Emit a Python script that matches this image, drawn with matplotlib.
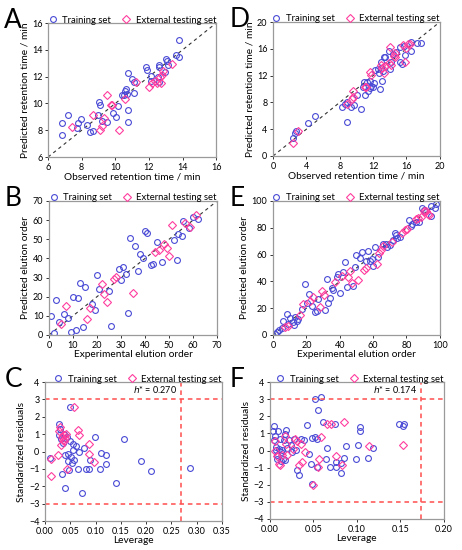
import numpy as np
import matplotlib
matplotlib.use("Agg")
import matplotlib.pyplot as plt

plt.rcParams['font.family'] = ['Lato', 'DejaVu Sans']

# ---- data ----
# A: retention time, model 1
a_train_x = [6.8, 6.84, 7.17, 7.75, 7.8, 7.95, 8.33, 8.52, 8.7, 9.0, 9.03, 9.1, 9.2, 9.5, 9.88,
             10.04, 10.17, 10.37, 10.5, 10.6, 10.65, 10.7, 10.74, 10.78, 10.75, 11.0, 11.1, 11.12,
             11.83, 11.86, 12.12, 12.12, 12.52, 12.58, 12.62, 12.62, 12.94, 13.0, 13.08, 13.12,
             13.6, 13.78, 13.8]
a_train_y = [8.55, 7.67, 9.13, 8.2, 8.55, 8.85, 8.4, 7.9, 7.95, 9.15, 10.1, 9.9, 8.7, 8.6, 9.3,
             9.0, 9.83, 10.6, 10.65, 10.9, 11.07, 10.7, 8.59, 9.48, 12.27, 11.85, 11.57, 10.78,
             12.69, 12.47, 12.02, 11.65, 11.95, 11.57, 12.9, 12.7, 12.35, 13.35, 13.2, 12.9,
             13.63, 13.5, 14.75]
a_test_x = [7.45, 8.68, 9.08, 9.18, 9.34, 9.5, 9.76, 9.82, 10.2, 10.6, 11.23, 11.98, 12.16,
            12.36, 12.46, 12.64, 12.74, 12.76, 12.86, 13.36]
a_test_y = [8.24, 9.16, 8.04, 8.34, 8.9, 10.65, 9.88, 9.9, 8.04, 10.35, 11.57, 11.22, 11.52,
            11.65, 11.52, 11.95, 11.52, 12.15, 12.42, 12.94]

# D: retention time, model 2
d_train_x = [2.36, 2.67, 2.75, 4.23, 5.07, 8.3, 8.62, 8.86, 8.86, 9.3, 9.7, 10.1, 10.54, 10.74,
             10.9, 11.02, 11.3, 11.42, 11.58, 11.62, 11.74, 11.98, 12.1, 12.26, 12.57, 12.73,
             12.81, 12.89, 13.0, 13.05, 13.13, 13.29, 13.45, 13.89, 14.0, 14.13, 14.41, 14.69,
             15.2, 15.24, 15.5, 15.7, 15.77, 16.49, 16.49, 17.28, 17.76]
d_train_y = [2.64, 3.39, 3.74, 4.89, 6.03, 7.28, 7.78, 8.13, 5.14, 7.28, 7.63, 9.03, 6.98, 10.27,
             11.02, 9.03, 10.97, 9.63, 11.22, 10.12, 10.52, 10.27, 10.87, 12.87, 13.02, 12.37,
             10.02, 13.12, 14.0, 11.22, 12.62, 14.71, 14.71, 15.6, 13.02, 14.0, 15.2, 15.5,
             16.26, 14.0, 13.7, 16.36, 15.1, 15.6, 16.95, 16.86, 16.86]
d_test_x = [2.44, 2.95, 8.82, 9.46, 9.58, 9.58, 11.02, 11.14, 11.62, 11.78, 12.89, 13.09, 13.29,
            13.37, 13.89, 14.01, 14.09, 14.49, 14.57, 14.61, 15.53, 15.85, 15.93, 16.13, 16.41]
d_test_y = [1.9, 3.74, 7.78, 8.53, 8.78, 9.73, 10.27, 10.37, 12.52, 12.12, 13.52, 13.12, 12.37,
            13.47, 13.87, 16.26, 13.52, 14.96, 15.36, 14.71, 16.51, 14.0, 16.11, 16.76, 16.76]

# B: elution order, model 1
b_train_x = [0.8, 2.2, 3.0, 4.0, 6.1, 8.0, 9.0, 10.0, 11.1, 12.0, 13.0, 14.0, 15.1, 18.1, 19.1,
             20.0, 21.0, 25.0, 26.0, 29.0, 29.9, 31.0, 32.0, 32.9, 33.9, 36.0, 36.9, 37.9, 39.0,
             39.8, 40.9, 42.3, 43.2, 45.0, 47.0, 52.0, 53.1, 53.8, 55.2, 55.9, 58.1, 59.9, 62.2]
b_train_y = [10.1, 0.9, 18.2, 7.0, 10.9, 9.0, 1.7, 20.0, 2.6, 19.1, 27.3, 4.0, 25.2, 16.2, 13.0,
             31.3, 24.0, 23.1, 4.9, 34.2, 28.7, 35.3, 32.1, 11.6, 50.4, 46.4, 33.4, 42.2, 40.3,
             54.4, 53.3, 36.5, 37.3, 48.5, 38.2, 49.5, 39.4, 52.6, 51.6, 59.6, 55.9, 61.7, 60.4]
b_test_x = [5.0, 7.2, 16.0, 17.0, 22.0, 23.1, 24.1, 27.0, 28.1, 35.0, 44.0, 45.9, 47.9, 49.0,
            50.1, 51.2, 56.8, 58.8, 61.1]
b_test_y = [5.7, 15.1, 8.2, 14.2, 26.4, 21.2, 17.0, 29.2, 30.4, 22.1, 43.4, 44.3, 47.4, 45.2,
            41.3, 57.7, 58.5, 56.5, 62.5]

# E: elution order, model 2
e_train_x = [1.2, 2.6, 3.6, 5.2, 6.2, 8.2, 9.0, 10.1, 11.7, 12.7, 13.1, 14.1, 15.1, 17.1, 19.3,
             20.1, 21.3, 23.1, 25.4, 26.4, 27.0, 31.4, 32.2, 33.0, 34.2, 35.4, 36.2, 38.4, 39.2,
             40.2, 41.9, 43.3, 44.1, 48.1, 49.3, 49.9, 51.9, 53.5, 55.9, 57.1, 58.3, 59.2, 60.2,
             61.0, 63.2, 66.0, 68.0, 68.6, 70.2, 72.2, 73.4, 73.8, 74.6, 76.3, 81.7, 82.5, 83.5,
             85.5, 87.5, 89.1, 90.7, 94.6, 95.0, 97.0, 98.0]
e_train_y = [0.7, 2.5, 3.7, 5.0, 10.7, 15.4, 8.2, 12.4, 9.9, 7.7, 13.6, 10.4, 11.7, 19.4, 37.7,
             23.6, 30.5, 21.6, 16.9, 17.9, 26.6, 18.6, 41.4, 23.6, 27.8, 34.7, 33.5, 42.9, 45.4,
             31.5, 47.1, 54.1, 35.5, 36.5, 50.9, 59.8, 57.8, 61.8, 55.3, 62.8, 55.3, 56.6, 51.6,
             65.8, 58.3, 67.7, 68.2, 65.3, 67.5, 70.7, 76.2, 74.4, 72.0, 73.2, 85.6, 81.1, 83.1,
             84.4, 84.4, 94.8, 93.0, 88.8, 96.3, 95.0, 98.0]
e_test_x = [7.2, 9.1, 16.3, 18.1, 22.3, 24.1, 28.2, 29.2, 30.8, 37.1, 41.4, 45.1, 46.3, 47.3,
            51.1, 54.7, 55.5, 62.3, 63.8, 64.8, 66.2, 71.4, 77.3, 78.9, 80.1, 86.0, 87.1, 88.5,
            90.5, 91.8, 92.8, 93.6]
e_test_y = [5.7, 6.7, 14.9, 22.8, 25.6, 28.5, 20.6, 32.8, 29.8, 39.7, 43.9, 43.4, 47.9, 39.0,
            40.9, 48.4, 50.1, 52.6, 60.8, 63.5, 66.3, 69.5, 76.2, 78.7, 79.4, 86.6, 87.3, 88.1,
            92.6, 92.6, 90.6, 89.8]

# C: Williams plot, model 1
c_train_x = [0.010, 0.027, 0.030, 0.028, 0.031, 0.033, 0.035, 0.038, 0.040, 0.040, 0.043, 0.046,
             0.046, 0.048, 0.049, 0.050, 0.051, 0.053, 0.055, 0.056, 0.057, 0.061, 0.065, 0.067,
             0.073, 0.077, 0.081, 0.087, 0.090, 0.099, 0.109, 0.110, 0.120, 0.120, 0.141, 0.157,
             0.189, 0.209, 0.286]
c_train_y = [-0.36, 1.56, 1.31, 0.93, 0.74, -1.28, 0.49, 1.03, -0.22, -2.09, 0.83, -0.12, -0.55,
             -1.05, 0.60, 2.56, -0.32, -0.64, 0.41, 0.07, -0.47, 0.34, -1.00, -0.03, -2.37, 0.22,
             -1.00, -1.00, -0.51, 0.83, -0.99, -0.09, -0.22, -0.70, -1.81, 0.74, -0.53, -1.14,
             -0.95]
c_test_x = [0.011, 0.0126, 0.026, 0.028, 0.030, 0.031, 0.034, 0.035, 0.038, 0.038, 0.040, 0.041,
            0.044, 0.057, 0.066, 0.068, 0.087, 0.088, 0.096]
c_test_y = [-0.43, -1.43, -0.22, 1.16, 1.41, 0.36, 0.83, 0.64, 0.60, 0.93, 0.80, 1.03, -1.03,
            2.56, 1.22, 0.93, 0.45, -0.16, -0.62]
c_hstar = 0.270

# F: Williams plot, model 2
f_train_x = [0.0031, 0.005, 0.005, 0.0061, 0.0069, 0.0076, 0.0088, 0.0088, 0.0099, 0.011, 0.012,
             0.0126, 0.0134, 0.0145, 0.0153, 0.0164, 0.0172, 0.0176, 0.0187, 0.0203, 0.0218,
             0.024, 0.026, 0.028, 0.030, 0.031, 0.033, 0.036, 0.039, 0.043, 0.0455, 0.047, 0.048,
             0.0486, 0.052, 0.052, 0.0547, 0.0555, 0.0547, 0.0585, 0.061, 0.0646, 0.066, 0.069,
             0.075, 0.076, 0.076, 0.0815, 0.082, 0.0857, 0.088, 0.0987, 0.101, 0.1036, 0.1036,
             0.113, 0.118, 0.148, 0.1526, 0.1545]
f_train_y = [1.12, 1.41, 0.60, 0.83, 0.21, 0.02, -0.27, -0.52, 1.12, 0.08, 0.70, -0.08, -0.60,
             0.02, -0.47, 0.60, -0.56, 0.99, 1.18, 0.12, 0.60, 0.31, -0.08, 0.70, 0.02, -1.14,
             -1.43, 0.70, 0.60, 1.47, -0.21, -0.76, -1.96, 0.74, 3.02, 0.79, -0.99, 2.34, 0.70,
             3.12, 1.67, -0.52, 0.14, -0.99, 1.57, -0.68, -0.99, -0.72, -1.34, -0.41, 0.25,
             -0.50, 0.31, 1.38, 1.12, -0.41, 0.17, 1.57, 1.43, 1.57]
f_test_x = [0.0057, 0.0061, 0.008, 0.0107, 0.0115, 0.0138, 0.0176, 0.0184, 0.0203, 0.027, 0.0287,
            0.031, 0.034, 0.0356, 0.0375, 0.040, 0.050, 0.0558, 0.0566, 0.0585, 0.066, 0.070,
            0.076, 0.083, 0.0857, 0.114, 0.153]
f_test_y = [0.56, -0.02, -0.31, -0.76, -0.85, -0.27, 0.83, 0.37, -0.27, 0.08, 0.70, 0.56, -0.85,
            0.37, -0.66, -0.08, -2.02, -0.95, -0.47, 0.79, 1.57, 1.55, -0.31, -0.85, 1.67, 0.25,
            0.35]
f_hstar = 0.174

BLUE = '#4a4ad6'
PINK = '#ff3d9e'
RED = '#ff4d4d'
GREY = '#9a9a9a'

fig = plt.figure(figsize=(4.62, 5.5), dpi=100)


def style_axes(ax):
    for s in ax.spines.values():
        s.set_color(GREY)
        s.set_linewidth(0.9)
    ax.tick_params(direction='out', length=2.5, width=0.7, color='#333333',
                   labelsize=6.5, pad=1.5, top=False, right=False)


def scatter_pair(ax, tx, ty, vx, vy):
    ax.plot(tx, ty, 'o', ms=4.2, mfc='none', mec=BLUE, mew=0.8, ls='none', label='Training set')
    ax.plot(vx, vy, 'D', ms=3.6, mfc='none', mec=PINK, mew=0.8, ls='none',
            label='External testing set')
    ax.legend(ncol=2, loc='lower right', bbox_to_anchor=(1.01, 0.975), frameon=False,
              fontsize=6.8, handletextpad=0.4, columnspacing=1.0, borderaxespad=0.1,
              borderpad=0.1, handlelength=1.2)


def parity(rect, letter, tx, ty, vx, vy, lim, ticks, xlabel, ylabel):
    ax = fig.add_axes(rect)
    ax.plot(lim, lim, ls=(0, (3, 3)), color='#333333', lw=0.8)
    scatter_pair(ax, tx, ty, vx, vy)
    ax.set_xlim(lim)
    ax.set_ylim(lim)
    ax.set_xticks(ticks)
    ax.set_yticks(ticks)
    ax.set_xlabel(xlabel, fontsize=7.3, labelpad=0.5)
    ax.set_ylabel(ylabel, fontsize=7.3, labelpad=2)
    style_axes(ax)
    fig.text(rect[0] - 0.095, rect[1] + rect[3] + 0.004, letter, fontsize=19, va='center')
    return ax


def williams(rect, letter, tx, ty, vx, vy, hstar, xmax, xticks):
    ax = fig.add_axes(rect)
    scatter_pair(ax, tx, ty, vx, vy)
    ax.axhline(3, color=RED, ls='--', lw=1.1, dashes=(3, 2.5))
    ax.axhline(-3, color=RED, ls='--', lw=1.1, dashes=(3, 2.5))
    ax.axvline(hstar, color=RED, ls='--', lw=1.1, dashes=(3, 2.5))
    ax.text(hstar - 0.008 * xmax / 0.35, 3.55, r'$h$* = %.3f' % hstar, ha='right', va='center',
            fontsize=6.5)
    ax.set_xlim(0, xmax)
    ax.set_ylim(-4, 4)
    ax.set_xticks(xticks)
    ax.set_xticklabels(['%.2f' % t for t in xticks])
    ax.set_yticks(range(-4, 5))
    ax.set_xlabel('Leverage', fontsize=7.3, labelpad=0.5)
    ax.set_ylabel('Standardized residuals', fontsize=7.3, labelpad=2)
    style_axes(ax)
    fig.text(rect[0] - 0.088, rect[1] + rect[3] + 0.004, letter, fontsize=19, va='center')
    return ax


parity([0.104, 0.7145, 0.364, 0.2436], 'A', a_train_x, a_train_y, a_test_x, a_test_y,
       (6, 16), range(6, 17, 2), 'Observed retention time / min', 'Predicted retention time / min')
parity([0.591, 0.7164, 0.361, 0.2436], 'D', d_train_x, d_train_y, d_test_x, d_test_y,
       (0, 20), range(0, 21, 4), 'Observed retention time / min', 'Predicted retention time / min')
parity([0.106, 0.391, 0.364, 0.2436], 'B', b_train_x, b_train_y, b_test_x, b_test_y,
       (0, 70), range(0, 71, 10), 'Experimental elution order', 'Predicted elution order')
parity([0.591, 0.391, 0.361, 0.2436], 'E', e_train_x, e_train_y, e_test_x, e_test_y,
       (0, 100), range(0, 101, 20), 'Experimental elution order', 'Predicted elution order')
williams([0.0974, 0.0527, 0.383, 0.2527], 'C', c_train_x, c_train_y, c_test_x, c_test_y,
         c_hstar, 0.35, np.arange(0, 0.351, 0.05))
williams([0.584, 0.0564, 0.377, 0.249], 'F', f_train_x, f_train_y, f_test_x, f_test_y,
         f_hstar, 0.20, np.arange(0, 0.201, 0.05))

fig.savefig('out.png', dpi=100)
